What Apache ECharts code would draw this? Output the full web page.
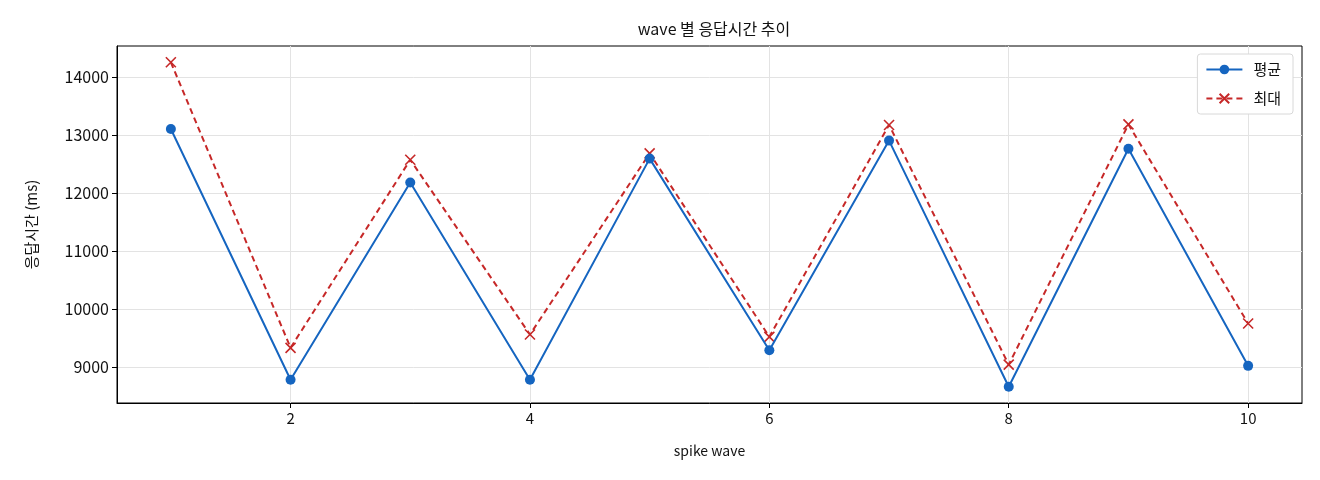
<!DOCTYPE html>
<html>
<head>
<meta charset="utf-8">
<script src="https://cdn.jsdelivr.net/npm/echarts@6/dist/echarts.min.js"></script>
<style>
  html, body { margin: 0; padding: 0; background: #fff; }
  #chart { width: 1320px; height: 480px; }
</style>
</head>
<body>
<div id="chart"></div>
<script>
    // wave 번호 (x)
    const waves = [1, 2, 3, 4, 5, 6, 7, 8, 9, 10];
    // 평균 / 최대 응답시간 (ms)
    const avgMs = [13100, 8780, 12180, 8780, 12590, 9290, 12900, 8660, 12760, 9020];
    const maxMs = [14250, 9330, 12570, 9560, 12680, 9520, 13170, 9040, 13180, 9750];
    const xTicks = [2, 4, 6, 8, 10];
    const yTicks = [9000, 10000, 11000, 12000, 13000, 14000];

    const FONT = '"Noto Sans CJK KR", "Noto Sans", sans-serif';
    const BLUE = '#1565c0';
    const RED = '#c62828';
    const CROSS = 'path://M0,0L10,10M10,0L0,10';

    let myChart = echarts.init(document.getElementById('chart'), null, { renderer: 'canvas' });
    myChart.setOption({
        animation: false,
        textStyle: { fontFamily: FONT },
        title: {
            text: 'wave 별 응답시간 추이',
            left: 709,
            top: 16,
            textAlign: 'center',
            textStyle: { fontFamily: FONT, fontSize: 16, fontWeight: 'normal', color: '#111' }
        },
        legend: {
            orient: 'vertical',
            right: 27,
            top: 54,
            padding: [8, 12, 8, 8],
            itemGap: 14,
            itemWidth: 36,
            itemHeight: 12,
            borderColor: '#d8d8d8',
            borderWidth: 1,
            borderRadius: 3,
            backgroundColor: '#fff',
            textStyle: { fontFamily: FONT, fontSize: 15, color: '#111', padding: [0, 0, 0, 6] },
            data: ['평균', '최대']
        },
        grid: {
            left: 117,
            right: 18,
            top: 46,
            bottom: 77,
            show: true,
            borderColor: '#000',
            borderWidth: 1,
            containLabel: false
        },
        xAxis: {
            type: 'value',
            min: 0.55,
            max: 10.45,
            name: 'spike wave',
            nameLocation: 'middle',
            nameGap: 41,
            nameTextStyle: { fontFamily: FONT, fontSize: 14, color: '#111' },
            axisLine: { show: true, lineStyle: { color: '#000', width: 1 } },
            axisTick: { show: true, customValues: xTicks, length: 5, lineStyle: { color: '#000' } },
            axisLabel: { customValues: xTicks, fontSize: 15, color: '#111', margin: 8,
                         formatter: v => String(v) },
            splitLine: { show: true, lineStyle: { color: '#e3e3e3', width: 1 } }
        },
        yAxis: {
            type: 'value',
            min: 8380,
            max: 14530,
            name: '응답시간 (ms)',
            nameLocation: 'middle',
            nameGap: 78,
            nameRotate: 90,
            nameTextStyle: { fontFamily: FONT, fontSize: 15, color: '#111' },
            axisLine: { show: true, lineStyle: { color: '#000', width: 1 } },
            axisTick: { show: true, customValues: yTicks, length: 5, lineStyle: { color: '#000' } },
            axisLabel: { customValues: yTicks, fontSize: 16, color: '#111', margin: 8,
                         formatter: v => String(v) },
            splitLine: { show: true, lineStyle: { color: '#e3e3e3', width: 1 } }
        },
        series: [
            {
                name: '평균',
                type: 'line',
                data: waves.map((w, i) => [w, avgMs[i]]),
                symbol: 'circle',
                symbolSize: 10,
                itemStyle: { color: BLUE },
                lineStyle: { color: BLUE, width: 2 },
                z: 3
            },
            {
                name: '최대',
                type: 'line',
                data: waves.map((w, i) => [w, maxMs[i]]),
                symbol: CROSS,
                symbolSize: 10,
                itemStyle: { color: RED, borderColor: RED, borderWidth: 1.6 },
                lineStyle: { color: RED, width: 2, type: [6, 4] },
                z: 2
            }
        ]
    });
</script>
</body>
</html>
